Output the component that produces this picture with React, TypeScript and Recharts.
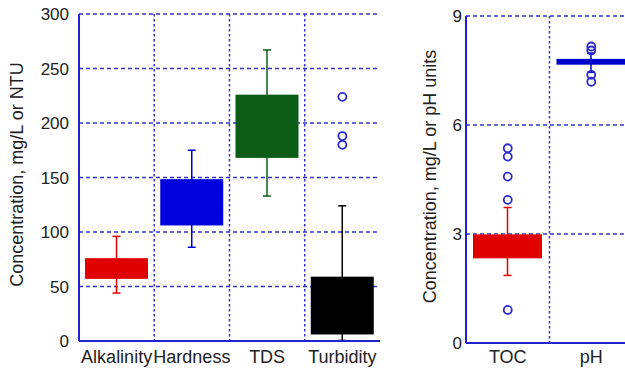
import React from 'react';
import { ComposedChart, Bar, Line, XAxis, YAxis, CartesianGrid } from 'recharts';

// ---- Left panel data ----
const categories = ['Alkalinity', 'Hardness', 'TDS', 'Turbidity'];
const whiskerLow = [44, 86, 133, 0.5];
const boxLow = [57, 106, 168, 6];
const boxHigh = [76, 148.5, 226, 59];
const whiskerHigh = [96, 175, 267, 124];
const outliers = [[], [], [], [224, 188, 180]];
const yTicks = [0, 50, 100, 150, 200, 250, 300];

// ---- Right panel data ----
const categories2 = ['TOC', 'pH'];
const whiskerLow2 = [1.86, 7.45];
const boxLow2 = [2.33, 7.66];
const boxHigh2 = [2.99, 7.82];
const whiskerHigh2 = [3.73, 7.98];
const outliers2 = [[0.91, 3.94, 4.58, 5.13, 5.36], [8.16, 8.05, 7.38, 7.19]];
const yTicks2 = [0, 3, 6, 9];

const colors1 = ['#e00000', '#0000dd', '#0b5c16', '#000000'];
const colors2 = ['#e00000', '#0000cc'];

const AXIS = '#2222cc';
const GRID = '#3333c8';
const FONT = 'Liberation Sans, Arial, sans-serif';

function buildRows(cats: string[], wl: number[], bl: number[], bh: number[], wh: number[], outs: number[][]) {
  return cats.map((c, i) => {
    const row: any = { cat: c, lo: wl[i], q1: bl[i], q3: bh[i], hi: wh[i] };
    outs[i].forEach((v, j) => { row['o' + j] = v; });
    return row;
  });
}

const rows1 = buildRows(categories, whiskerLow, boxLow, boxHigh, whiskerHigh, outliers);
const rows2 = buildRows(categories2, whiskerLow2, boxLow2, boxHigh2, whiskerHigh2, outliers2);

function makeBoxShape(colors: string[]) {
  return (props: any) => {
    const { x, y, width, height, payload, index } = props;
    const { lo, hi, q1, q3 } = payload;
    const color = colors[index];
    const k = height / (hi - lo);
    const yOf = (v: number) => y + (hi - v) * k;
    const cx = x + width / 2;
    return (
      <g>
        <line x1={cx} x2={cx} y1={yOf(hi)} y2={yOf(lo)} stroke={color} strokeWidth={1.5} />
        <line x1={cx - 4} x2={cx + 4} y1={yOf(hi)} y2={yOf(hi)} stroke={color} strokeWidth={1.5} />
        <line x1={cx - 4} x2={cx + 4} y1={yOf(lo)} y2={yOf(lo)} stroke={color} strokeWidth={1.5} />
        <rect x={x} y={yOf(q3)} width={width} height={yOf(q1) - yOf(q3)} fill={color} />
      </g>
    );
  };
}

const outlierDot = (props: any) => {
  const { cx, cy, value, key } = props;
  if (value == null || cy == null || isNaN(cy)) return <g key={key} />;
  return <circle key={key} cx={cx} cy={cy} r={4} fill="none" stroke="#2a2ad0" strokeWidth={1.8} />;
};

function yLabel(text: string, dx: number) {
  return (p: any) => {
    const vb = p.viewBox;
    const lx = vb.x + dx;
    const ly = vb.y + vb.height / 2 - 3;
    return (
      <text x={lx} y={ly} transform={`rotate(-90 ${lx} ${ly})`} textAnchor="middle" dominantBaseline="central"
        fontSize={18} fontFamily={FONT} fill="#222">{text}</text>
    );
  };
}

function BoxPanel(props: any) {
  const { rows, colors, ticks, domain, width, height, margin, yAxisWidth, xAxisHeight, label, labelDx, barSize, nOut, tickSize, xTickMargin } = props;
  const n = rows.length;
  const outKeys = Array.from({ length: nOut }, (_, j) => 'o' + j);
  return (
    <ComposedChart width={width} height={height} data={rows} margin={margin}>
      <CartesianGrid horizontal={true} vertical={false} stroke={GRID} strokeWidth={1.5} strokeDasharray="4 3" />
      <CartesianGrid horizontal={false} vertical={true} stroke={GRID} strokeWidth={1.5} strokeDasharray="2.5 2.5"
        verticalCoordinatesGenerator={({ offset }: any) => Array.from({ length: n - 1 }, (_, i) => offset.left + (i + 1) * offset.width / n)} />
      <XAxis dataKey="cat" axisLine={{ stroke: AXIS, strokeWidth: 2 }} tickLine={false} tickSize={6} tickMargin={xTickMargin}
        height={xAxisHeight} interval={0} tick={{ fontSize: 18, fill: '#222', fontFamily: FONT }} />
      <XAxis xAxisId="top" dataKey="cat" orientation="top" height={0} tick={false} tickLine={false}
        axisLine={{ stroke: AXIS, strokeWidth: 2 }} />
      <YAxis type="number" domain={domain} ticks={ticks} interval={0} width={yAxisWidth}
        axisLine={{ stroke: AXIS, strokeWidth: 2 }} tickLine={false} tickSize={tickSize} tickMargin={4}
        tick={{ fontSize: 17, fill: '#222', fontFamily: FONT }}
        label={{ content: yLabel(label, labelDx) }} />
      <YAxis yAxisId="right" orientation="right" type="number" domain={domain} width={0} tick={false} tickLine={false}
        axisLine={{ stroke: AXIS, strokeWidth: 2 }} />
      <Bar dataKey={(d: any) => [d.lo, d.hi]} barSize={barSize} shape={makeBoxShape(colors)} isAnimationActive={false} />
      {outKeys.map((k) => (
        <Line key={k} dataKey={k} stroke="none" dot={outlierDot} activeDot={false} isAnimationActive={false} connectNulls={false} />
      ))}
    </ComposedChart>
  );
}

export default function App() {
  return (
    <div style={{ position: 'absolute', left: 0, top: 0, width: 625, height: 369, overflow: 'hidden', background: '#fff' }}>
      <div style={{ position: 'absolute', left: 0, top: 0 }}>
        <BoxPanel rows={rows1} colors={colors1} ticks={yTicks} domain={[0, 300]} width={392} height={369}
          margin={{ top: 14, right: 12, bottom: 0, left: 0 }} yAxisWidth={79} xAxisHeight={28}
          label="Concentration, mg/L or NTU" labelDx={17} barSize={63} nOut={3} tickSize={6} xTickMargin={3} />
      </div>
      <div style={{ position: 'absolute', left: 380, top: 0 }}>
        <BoxPanel rows={rows2} colors={colors2} ticks={yTicks2} domain={[0, 9]} width={270} height={369}
          margin={{ top: 16, right: 17, bottom: 0, left: 0 }} yAxisWidth={86} xAxisHeight={26}
          label="Concentration, mg/L or pH units" labelDx={50} barSize={69} nOut={5} tickSize={0} xTickMargin={1} />
      </div>
    </div>
  );
}
